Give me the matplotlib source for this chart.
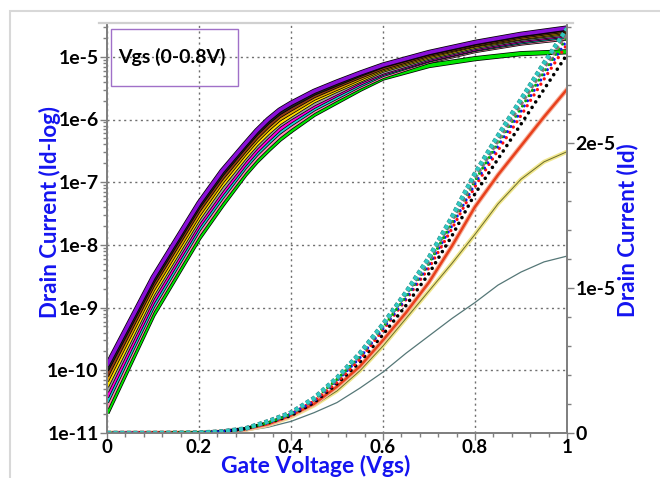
import numpy as np
import matplotlib
matplotlib.use("Agg")
import matplotlib.pyplot as plt
import matplotlib.patheffects as pe
from matplotlib.patches import Rectangle
from matplotlib.lines import Line2D
from matplotlib.ticker import FixedLocator, LogLocator, MultipleLocator, NullFormatter

plt.rcParams['font.family'] = ['Lato', 'DejaVu Sans']

# ---- data: log(Id) vs Vgs, one curve per Vds step (log10 of current in A)
vgs_log = [0, 0.1, 0.2, 0.25, 0.3, 0.325, 0.35, 0.375, 0.4, 0.45, 0.5, 0.55, 0.6, 0.7, 0.8, 0.9, 1.0]
log_purple = [-9.92, -8.52, -7.33, -6.82, -6.39, -6.18, -6.00, -5.85, -5.74, -5.55, -5.40, -5.26, -5.13, -4.93, -4.77, -4.64, -4.54]
log_black = [-10.00, -8.59, -7.39, -6.88, -6.44, -6.23, -6.05, -5.90, -5.79, -5.59, -5.44, -5.29, -5.15, -4.95, -4.79, -4.66, -4.56]
log_brown = [-10.09, -8.65, -7.45, -6.94, -6.50, -6.29, -6.11, -5.95, -5.84, -5.63, -5.47, -5.32, -5.18, -4.97, -4.81, -4.68, -4.58]
log_orange = [-10.17, -8.72, -7.52, -7.00, -6.55, -6.34, -6.16, -6.00, -5.89, -5.67, -5.51, -5.35, -5.20, -4.99, -4.82, -4.70, -4.60]
log_yellow = [-10.26, -8.79, -7.58, -7.06, -6.61, -6.40, -6.22, -6.06, -5.94, -5.71, -5.54, -5.38, -5.22, -5.01, -4.84, -4.71, -4.62]
log_gray = [-10.34, -8.85, -7.64, -7.13, -6.66, -6.45, -6.27, -6.10, -5.98, -5.76, -5.58, -5.40, -5.25, -5.03, -4.86, -4.73, -4.64]
log_magenta = [-10.43, -8.92, -7.70, -7.19, -6.72, -6.51, -6.33, -6.16, -6.03, -5.80, -5.61, -5.43, -5.27, -5.05, -4.88, -4.75, -4.66]
log_cyan = [-10.51, -8.99, -7.76, -7.25, -6.77, -6.56, -6.38, -6.21, -6.08, -5.84, -5.65, -5.46, -5.29, -5.06, -4.89, -4.77, -4.68]
log_pink = [-10.60, -9.05, -7.83, -7.31, -6.83, -6.62, -6.44, -6.27, -6.13, -5.88, -5.68, -5.49, -5.32, -5.08, -4.91, -4.79, -4.71]
log_green = [-10.68, -9.12, -7.89, -7.37, -6.88, -6.67, -6.49, -6.32, -6.18, -5.92, -5.72, -5.52, -5.34, -5.14, -5.03, -4.95, -4.92]

# ---- data: linear Id vs Vgs (units of 1e-5 A)
vgs_lin = [0, 0.1, 0.2, 0.25, 0.3, 0.35, 0.4, 0.45, 0.5, 0.55, 0.6, 0.65, 0.7, 0.75, 0.8, 0.85, 0.9, 0.95, 1.0]
id_cyan = [0, 0, 0.002, 0.01, 0.03, 0.08, 0.14, 0.24, 0.38, 0.55, 0.75, 0.97, 1.21, 1.49, 1.79, 2.05, 2.30, 2.55, 2.79]
id_gray = [0, 0, 0.002, 0.01, 0.03, 0.08, 0.14, 0.23, 0.37, 0.54, 0.74, 0.96, 1.19, 1.47, 1.76, 2.02, 2.27, 2.52, 2.76]
id_green = [0, 0, 0.002, 0.01, 0.03, 0.07, 0.13, 0.23, 0.37, 0.53, 0.73, 0.94, 1.17, 1.45, 1.74, 2.00, 2.24, 2.49, 2.73]
id_blue = [0, 0, 0.002, 0.01, 0.03, 0.07, 0.13, 0.22, 0.36, 0.52, 0.72, 0.93, 1.16, 1.43, 1.72, 1.98, 2.22, 2.47, 2.71]
id_red = [0, 0, 0.002, 0.01, 0.03, 0.07, 0.13, 0.22, 0.35, 0.51, 0.71, 0.92, 1.14, 1.41, 1.70, 1.95, 2.19, 2.44, 2.68]
id_black = [0, 0, 0.002, 0.01, 0.03, 0.07, 0.12, 0.21, 0.34, 0.49, 0.68, 0.88, 1.10, 1.36, 1.65, 1.89, 2.13, 2.37, 2.61]
id_redline = [0, 0, 0.001, 0.008, 0.025, 0.06, 0.12, 0.20, 0.32, 0.46, 0.64, 0.83, 1.04, 1.29, 1.56, 1.78, 1.98, 2.18, 2.37]
id_yellow = [0, 0, 0.001, 0.006, 0.02, 0.055, 0.11, 0.19, 0.29, 0.43, 0.60, 0.79, 0.98, 1.17, 1.37, 1.58, 1.75, 1.87, 1.94]
id_slate = [0, 0, 0.001, 0.004, 0.015, 0.04, 0.08, 0.14, 0.21, 0.31, 0.42, 0.55, 0.67, 0.79, 0.90, 1.02, 1.11, 1.18, 1.22]

x_ticks = [0, 0.2, 0.4, 0.6, 0.8, 1.0]
x_labels = ["0", "0.2", "0.4", "0.6", "0.8", "1"]
log_ticks = [1e-11, 1e-10, 1e-9, 1e-8, 1e-7, 1e-6, 1e-5]
log_labels = ["1e-11", "1e-10", "1e-9", "1e-8", "1e-7", "1e-6", "1e-5"]
lin_ticks = [0, 1e-5, 2e-5]
lin_labels = ["0", "1e-5", "2e-5"]

W, H = 660, 478
fig = plt.figure(figsize=(W / 100, H / 100), dpi=100)
ax = fig.add_axes([107 / W, 1 - 433 / H, 460 / W, 408 / H])
ax2 = ax.twinx()

blue = "#1414F0"
spine_c = "#808080"

# log curves, drawn bottom to top
log_curves = [
    (log_green, "#00E400", 2.6),
    (log_pink, "#FF8CB4", 1.8),
    (log_cyan, "#20D0D0", 1.8),
    (log_magenta, "#FF00E0", 1.8),
    (log_gray, "#A0A0A0", 1.8),
    (log_yellow, "#FFE000", 1.8),
    (log_orange, "#E0A000", 1.8),
    (log_brown, "#8B3A1A", 1.8),
    (log_black, "#202020", 1.8),
    (log_purple, "#8A10D8", 2.6),
]
for vals, c, lw in log_curves:
    ax.plot(vgs_log, np.power(10.0, vals), color=c, lw=lw, solid_capstyle="butt",
            solid_joinstyle="round",
            path_effects=[pe.Stroke(linewidth=lw + 1.1, foreground="black"), pe.Normal()])

ax.set_yscale("log")
ax.set_xlim(0, 1)
ax.set_ylim(1e-11, 10 ** (-11 + 408 / 62.7))

# linear curves
sc = 1e-5
ax2.plot(vgs_lin, np.array(id_slate) * sc, color="#557777", lw=0.9)
ax2.plot(vgs_lin, np.array(id_yellow) * sc, color="#F0E68C", lw=3.0)
ax2.plot(vgs_lin, np.array(id_yellow) * sc, color="#6B6B2A", lw=0.7)
ax2.plot(vgs_lin, np.array(id_redline) * sc, color="#E8401C", lw=1.8,
         path_effects=[pe.Stroke(linewidth=3.4, foreground="#F6B4A0"), pe.Normal()])
ax2.plot(vgs_lin, np.array(id_black) * sc, color="black", lw=2.6,
         ls=(0, (0.01, 1.8)), dash_capstyle="round")
ax2.plot(vgs_lin, np.array(id_red) * sc, color="#FF1010", lw=2.4,
         ls=(0, (0.01, 1.9)), dash_capstyle="round")
ax2.plot(vgs_lin, np.array(id_blue) * sc, color="#1010FF", lw=2.2,
         ls=(0, (0.01, 2.0)), dash_capstyle="round")
ax2.plot(vgs_lin, np.array(id_green) * sc, color="#00B000", lw=2.2,
         ls=(0.5, (0.01, 2.0)), dash_capstyle="round")
ax2.plot(vgs_lin, np.array(id_gray) * sc, color="#8C7878", lw=2.8,
         ls=(0, (1, 0.7)), dash_capstyle="butt")
ax2.plot(vgs_lin, np.array(id_cyan) * sc, color="#30C8C0", lw=2.8,
         ls=(0, (1, 0.7)), dash_capstyle="butt",
         path_effects=[pe.Stroke(linewidth=3.4, foreground="#2A7A7A"), pe.Normal()])
ax2.set_ylim(0, 408 / 145 * 1e-5)

# grid
ax.grid(True, which="major", ls=(0, (1.5, 2.5)), color="#707070", lw=1.0)
ax.set_axisbelow(True)

# ticks
tick_font = dict(fontsize=14, fontweight="bold")
ax.xaxis.set_major_locator(FixedLocator(x_ticks))
ax.set_xticklabels(x_labels, fontsize=13.5, fontweight="bold")
ax.xaxis.set_minor_locator(MultipleLocator(0.04))
ax.yaxis.set_major_locator(FixedLocator(log_ticks))
ax.set_yticklabels(log_labels, **tick_font)
ax.yaxis.set_minor_locator(LogLocator(base=10, subs=np.arange(2, 10)))
ax.yaxis.set_minor_formatter(NullFormatter())
ax.tick_params(axis="both", which="major", direction="out", length=5, width=1,
               color=spine_c, pad=1)
ax.tick_params(axis="both", which="minor", direction="out", length=3, width=1,
               color=spine_c)
ax.tick_params(axis="x", pad=-1)

ax2.yaxis.set_major_locator(FixedLocator(lin_ticks))
ax2.set_yticklabels(lin_labels, **tick_font)
ax2.yaxis.set_minor_locator(MultipleLocator(0.2e-5))
ax2.tick_params(axis="y", which="major", direction="out", length=5, width=1,
                color=spine_c, pad=1)
ax2.tick_params(axis="y", which="minor", direction="out", length=3, width=1,
                color=spine_c)

for a in (ax, ax2):
    a.spines["top"].set_visible(False)
    for s in ("left", "right", "bottom"):
        a.spines[s].set_color(spine_c)
        a.spines[s].set_linewidth(1.3)

# labels
fig.text(50 / W, 1 - 212 / H, "Drain Current (Id-log)", rotation=90, ha="center",
         va="center", color=blue, fontsize=16, fontweight="bold")
fig.text(628 / W, 1 - 230 / H, "Drain Current (Id)", rotation=90, ha="center",
         va="center", color=blue, fontsize=16, fontweight="bold")
fig.text(316 / W, 1 - 473 / H, "Gate Voltage (Vgs)", ha="center", va="baseline",
         color=blue, fontsize=16.5, fontweight="bold")

# legend-like box
fig.patches.append(Rectangle((111 / W, 1 - 86 / H), 127 / W, 57 / H,
                             transform=fig.transFigure, fill=False,
                             edgecolor="#A070C8", lw=1.0, zorder=5))
fig.text(118 / W, 1 - 57 / H, "Vgs (0-0.8V)", ha="left", va="center",
         fontsize=14, fontweight="bold", color="black", zorder=6)

# outer frame and top rule
fig.patches.append(Rectangle((10 / W, -0.1), 1.2, 1.1 - 11 / H,
                             transform=fig.transFigure, fill=False,
                             edgecolor="#D8D8D8", lw=1.5))
fig.lines.append(Line2D([99 / W, 573 / W], [1 - 23 / H, 1 - 23 / H],
                        transform=fig.transFigure, color="#D0D0D0", lw=1.6))

fig.savefig("out.png", dpi=100)
